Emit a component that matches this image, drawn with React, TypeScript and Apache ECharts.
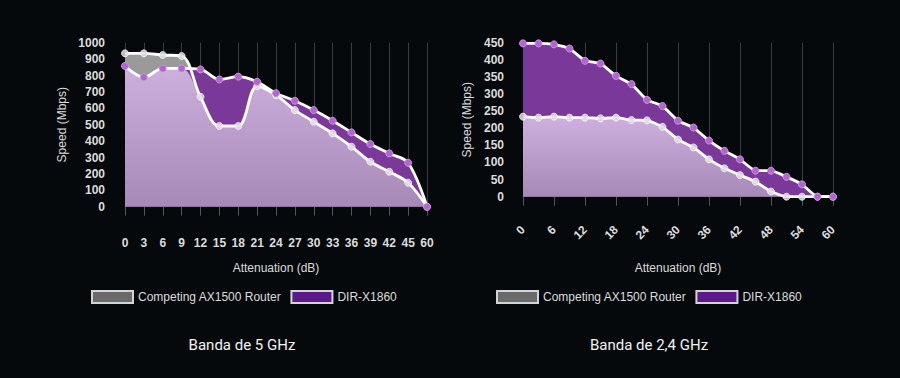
import React, { useEffect, useRef } from 'react';
import * as echarts from 'echarts';

// ---- Data ----
const COMP_NAME = 'Competing AX1500 Router';
const DIR_NAME = 'DIR-X1860';

const band5Categories = ['0', '3', '6', '9', '12', '15', '18', '21', '24', '27', '30', '33', '36', '39', '42', '45', '60'];
const band5Competing = [935, 935, 925, 919, 670, 492, 492, 735, 680, 589, 518, 447, 366, 274, 213, 146, 0];
const band5Dir = [858, 789, 843, 843, 837, 776, 793, 762, 692, 646, 589, 524, 453, 382, 325, 268, 0];

const band24Categories = ['0', '3', '6', '9', '12', '15', '18', '21', '24', '27', '30', '33', '36', '39', '42', '45', '48', '51', '54', '57', '60'];
const band24Competing = [234, 231, 234, 231, 231, 229, 231, 224, 223, 204, 167, 144, 109, 83, 63, 44, 15, 0, 0, 0, 0];
const band24Dir = [448, 448, 445, 433, 397, 389, 353, 329, 283, 265, 222, 202, 164, 134, 109, 76, 76, 58, 36, 0, 0];

const captions = ['Banda de 5 GHz', 'Banda de 2,4 GHz'];
const axisXName = 'Attenuation (dB)';
const axisYName = 'Speed (Mbps)';

// ---- Styles ----
const BG = '#05090b';
const TEXT = '#dcdcdc';
const FONT = '"Liberation Sans", Arial, sans-serif';

function buildSeries(idx: number, comp: number[], dir: number[], smooth: number) {
  const lower = comp.map((v, i) => Math.min(v, dir[i]));
  const common = { type: 'line', xAxisIndex: idx, yAxisIndex: idx, smooth, silent: true };
  const lavender = new echarts.graphic.LinearGradient(0, 0, 0, 1, [
    { offset: 0, color: '#cdb0de' },
    { offset: 1, color: '#a789b7' },
  ]);
  return [
    { ...common, name: COMP_NAME, data: comp, symbol: 'none', lineStyle: { width: 0, opacity: 0 }, areaStyle: { color: '#9a9a9a', opacity: 1 }, z: 1 },
    { ...common, name: DIR_NAME, data: dir, symbol: 'none', lineStyle: { width: 0, opacity: 0 }, areaStyle: { color: '#7a3899', opacity: 1 }, z: 2 },
    { ...common, name: 'lower-' + idx, data: lower, symbol: 'none', lineStyle: { width: 0, opacity: 0 }, areaStyle: { color: lavender, opacity: 1 }, z: 3 },
    {
      ...common, name: COMP_NAME, data: comp, symbol: 'circle', symbolSize: 7, showSymbol: true,
      lineStyle: { color: '#ffffff', width: 2.8 },
      itemStyle: { color: 'rgba(225,220,228,0.85)', borderColor: 'rgba(255,255,255,0.7)', borderWidth: 1 },
      z: 4,
    },
    {
      ...common, name: DIR_NAME, data: dir, symbol: 'circle', symbolSize: 7, showSymbol: true,
      lineStyle: { color: '#ffffff', width: 2.8 },
      itemStyle: { color: '#b065cf', borderColor: '#cc95e0', borderWidth: 1 },
      z: 5,
    },
  ];
}

function legendFor(left: number) {
  return {
    left,
    top: 290,
    padding: 0,
    orient: 'horizontal',
    icon: 'rect',
    itemWidth: 41,
    itemHeight: 12,
    itemGap: 9,
    selectedMode: false,
    textStyle: { color: TEXT, fontSize: 12, fontFamily: FONT },
    data: [
      { name: COMP_NAME, itemStyle: { color: '#6a6a6a', borderColor: '#d4d4d4', borderWidth: 2 } },
      { name: DIR_NAME, itemStyle: { color: '#5a1a8c', borderColor: '#d4d4d4', borderWidth: 2 } },
    ],
  };
}

export default function App() {
  const ref = useRef<HTMLDivElement>(null);

  useEffect(() => {
    if (!ref.current) return;
    const chart = echarts.init(ref.current, null, { renderer: 'svg' });
    const axisLabelStyle = { color: TEXT, fontSize: 12, fontWeight: 'bold', fontFamily: FONT };
    const nameStyle = { color: TEXT, fontSize: 12, fontFamily: FONT };
    const plain = (v: number) => String(v);

    chart.setOption({
      animation: false,
      backgroundColor: BG,
      grid: [
        { left: 125, width: 302, top: 42.7, height: 164, containLabel: false },
        { left: 523, width: 310, top: 42.7, height: 154, containLabel: false },
      ],
      legend: [legendFor(91), legendFor(496)],
      xAxis: [
        {
          type: 'category', gridIndex: 0, data: band5Categories, boundaryGap: false,
          axisLine: { show: true, lineStyle: { color: '#4a4a4a' } },
          axisTick: { show: true, length: 9, lineStyle: { color: '#555' }, interval: 0 },
          splitLine: { show: true, lineStyle: { color: '#3a3d3f', width: 1 }, interval: 0 },
          axisLabel: { ...axisLabelStyle, margin: 30, interval: 0 },
          name: axisXName, nameLocation: 'middle', nameGap: 55, nameTextStyle: nameStyle,
        },
        {
          type: 'category', gridIndex: 1, data: band24Categories, boundaryGap: false,
          axisLine: { show: true, lineStyle: { color: '#4a4a4a' } },
          axisTick: { show: true, length: 9, lineStyle: { color: '#555' }, interval: 1 },
          splitLine: { show: true, lineStyle: { color: '#3a3d3f', width: 1 }, interval: 1 },
          axisLabel: { ...axisLabelStyle, margin: 31, interval: 1, rotate: 45 },
          name: axisXName, nameLocation: 'middle', nameGap: 65, nameTextStyle: nameStyle,
        },
      ],
      yAxis: [
        {
          type: 'value', gridIndex: 0, min: 0, max: 1000, interval: 100,
          axisLine: { show: false }, axisTick: { show: false }, splitLine: { show: false },
          axisLabel: { ...axisLabelStyle, margin: 20, formatter: plain },
          name: axisYName, nameLocation: 'middle', nameGap: 57, nameTextStyle: nameStyle,
        },
        {
          type: 'value', gridIndex: 1, min: 0, max: 450, interval: 50,
          axisLine: { show: false }, axisTick: { show: false }, splitLine: { show: false },
          axisLabel: { ...axisLabelStyle, margin: 19, formatter: plain },
          name: axisYName, nameLocation: 'middle', nameGap: 50, nameTextStyle: nameStyle,
        },
      ],
      graphic: [
        { type: 'text', x: 242, y: 345, style: { text: captions[0], fill: '#f2f2f2', font: '15px Roboto, "Noto Sans", sans-serif', textAlign: 'center', textVerticalAlign: 'middle' } },
        { type: 'text', x: 649, y: 345, style: { text: captions[1], fill: '#f2f2f2', font: '15px Roboto, "Noto Sans", sans-serif', textAlign: 'center', textVerticalAlign: 'middle' } },
      ],
      series: [
        ...buildSeries(0, band5Competing, band5Dir, 0.35),
        ...buildSeries(1, band24Competing, band24Dir, 0.15),
      ],
    });

    return () => chart.dispose();
  }, []);

  return (
    <div
      ref={ref}
      style={{ position: 'fixed', left: 0, top: 0, width: 900, height: 378, background: BG }}
    />
  );
}
